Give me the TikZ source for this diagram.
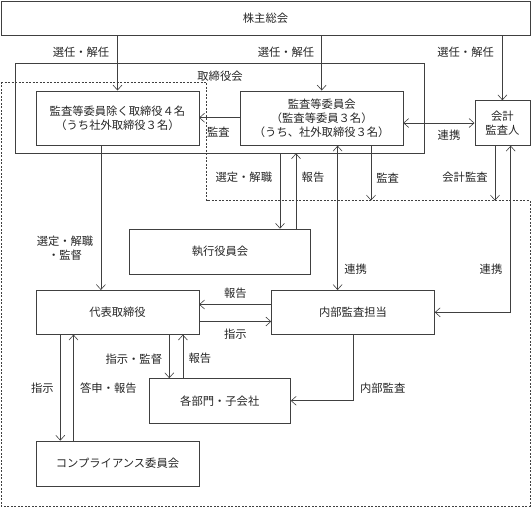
\documentclass[tikz,border=0pt]{standalone}
\usepackage{fontspec}
\setmainfont{Noto Sans CJK JP}
\usetikzlibrary{arrows.meta,calc}
\begin{document}
\begin{tikzpicture}[x=1pt,y=-1pt,
  every node/.style={font=\fontsize{11.3}{14}\selectfont, text=black!85},
  box/.style={draw=black!75, line width=0.6pt, inner sep=0pt, align=center},
  lbl/.style={inner sep=0pt, align=center},
  ln/.style={draw=black!75, line width=0.6pt},
  arr/.style={ln, -{Straight Barb[length=5pt,width=9pt]}},
  darr/.style={ln, {Straight Barb[length=5pt,width=9pt]}-{Straight Barb[length=5pt,width=9pt]}},
  dsh/.style={draw=black!75, line width=0.6pt, dash pattern=on 2pt off 1.5pt}]
\useasboundingbox (0,0) rectangle (531,507);
% dashed region
\draw[dsh] (1,82.3) -- (206.6,82.3) -- (206.6,200.6) -- (530,200.6) -- (530,506) -- (1,506) -- cycle;
\coordinate (dl) at (300,200.6);
% boxes
\node[box, minimum width=529pt, minimum height=34.6pt] (sh) at (265.5,18.3) {株主総会};
\node[box, minimum width=408.8pt, minimum height=89.3pt] (board) at (219.6,108.35) {};
\node[lbl] (boardlbl) at (220,76) {取締役会};
\node[box, minimum width=162.6pt, minimum height=54.6pt] (dir) at (117.5,118.1) {監査等委員除く取締役４名\\（うち社外取締役３名）};
\node[box, minimum width=162.6pt, minimum height=54.6pt] (ac) at (321.7,118.1) {監査等委員会\\（監査等委員３名）\\（うち、社外取締役３名）};
\node[box, minimum width=55.2pt, minimum height=44.8pt] (aud) at (502.4,123) {会計\\監査人};
\node[box, minimum width=181pt, minimum height=45pt] (exec) at (220,251.5) {執行役員会};
\node[box, minimum width=162.6pt, minimum height=44pt] (rep) at (117.5,312.3) {代表取締役};
\node[box, minimum width=162.9pt, minimum height=44pt] (ia) at (353,312.3) {内部監査担当};
\node[box, minimum width=141.5pt, minimum height=44.5pt] (dept) at (219.75,400.75) {各部門・子会社};
\node[box, minimum width=162.6pt, minimum height=44.8pt] (comp) at (117.5,463.4) {コンプライアンス委員会};
% connectors from shareholders
\draw[arr] (dir.north |- sh.south) -- (dir.north);
\draw[arr] (ac.north |- sh.south) -- (ac.north);
\draw[arr] (aud.north |- sh.south) -- (aud.north);
\node[lbl] at (81,52.5) {選任・解任};
\node[lbl] at (286,52.5) {選任・解任};
\node[lbl] at (465.6,52.5) {選任・解任};
% audit committee connections
\draw[arr] ([yshift=0.4pt]ac.west) -- ([yshift=0.4pt]dir.east);
\node[lbl] at (218.4,131.9) {監査};
\draw[darr] (aud.west -| ac.east) -- (aud.west);
\node[lbl] at (449,135) {連携};
% board to rep
\draw[arr] ([xshift=-16.6pt]dir.south) -- ([xshift=-16.6pt]rep.north);
\node[lbl] at (65,248) {選定・解職\\・監督};
% board <-> exec
\draw[arr] ([xshift=60pt]exec.north |- board.south) -- ([xshift=60pt]exec.north);
\draw[arr] ([xshift=76pt]exec.north) -- ([xshift=76pt]exec.north |- board.south);
\node[lbl] at (243.8,177.6) {選定・解職};
\node[lbl] at (313,177.6) {報告};
% audit arrows to dashed region
\draw[arr] ([xshift=49.3pt]ac.south) -- ([xshift=49.3pt]ac.south |- dl);
\node[lbl] at (387.7,177.6) {監査};
\draw[arr] ([xshift=-7.4pt]aud.south) -- ([xshift=-7.4pt]aud.south |- dl);
\node[lbl] at (465,177.6) {会計監査};
% 連携
\draw[darr] ([xshift=15.9pt]ac.south) -- ([xshift=15.9pt]ac.south |- ia.north);
\node[lbl] at (355.6,269) {連携};
\draw[darr] ([xshift=8.3pt]aud.south) |- (ia.east);
\node[lbl] at (491,269) {連携};
% rep <-> ia
\draw[arr] ([yshift=7.8pt]ia.west) -- ([yshift=7.8pt]rep.east);
\node[lbl] at (235.4,293) {報告};
\draw[arr] ([yshift=-9.2pt]rep.east) -- ([yshift=-9.2pt]ia.west);
\node[lbl] at (235.4,334.3) {指示};
% rep <-> dept
\draw[arr] ([xshift=51.8pt]rep.south) -- ([xshift=51.8pt]rep.south |- dept.north);
\draw[arr] ([xshift=65.4pt]rep.south |- dept.north) -- ([xshift=65.4pt]rep.south);
\node[lbl] at (133.8,358.7) {指示・監督};
\node[lbl] at (199.8,358.7) {報告};
% ia -> dept
\draw[arr] (ia.south) |- (dept.east);
\node[lbl] at (382.7,388.6) {内部監査};
% rep <-> comp
\draw[arr] ([xshift=-57.2pt]rep.south) -- ([xshift=-57.2pt]comp.north);
\draw[arr] ([xshift=-44pt]comp.north) -- ([xshift=-44pt]rep.south);
\node[lbl] at (42.3,388.6) {指示};
\node[lbl] at (108.4,388.6) {答申・報告};
\end{tikzpicture}
\end{document}
